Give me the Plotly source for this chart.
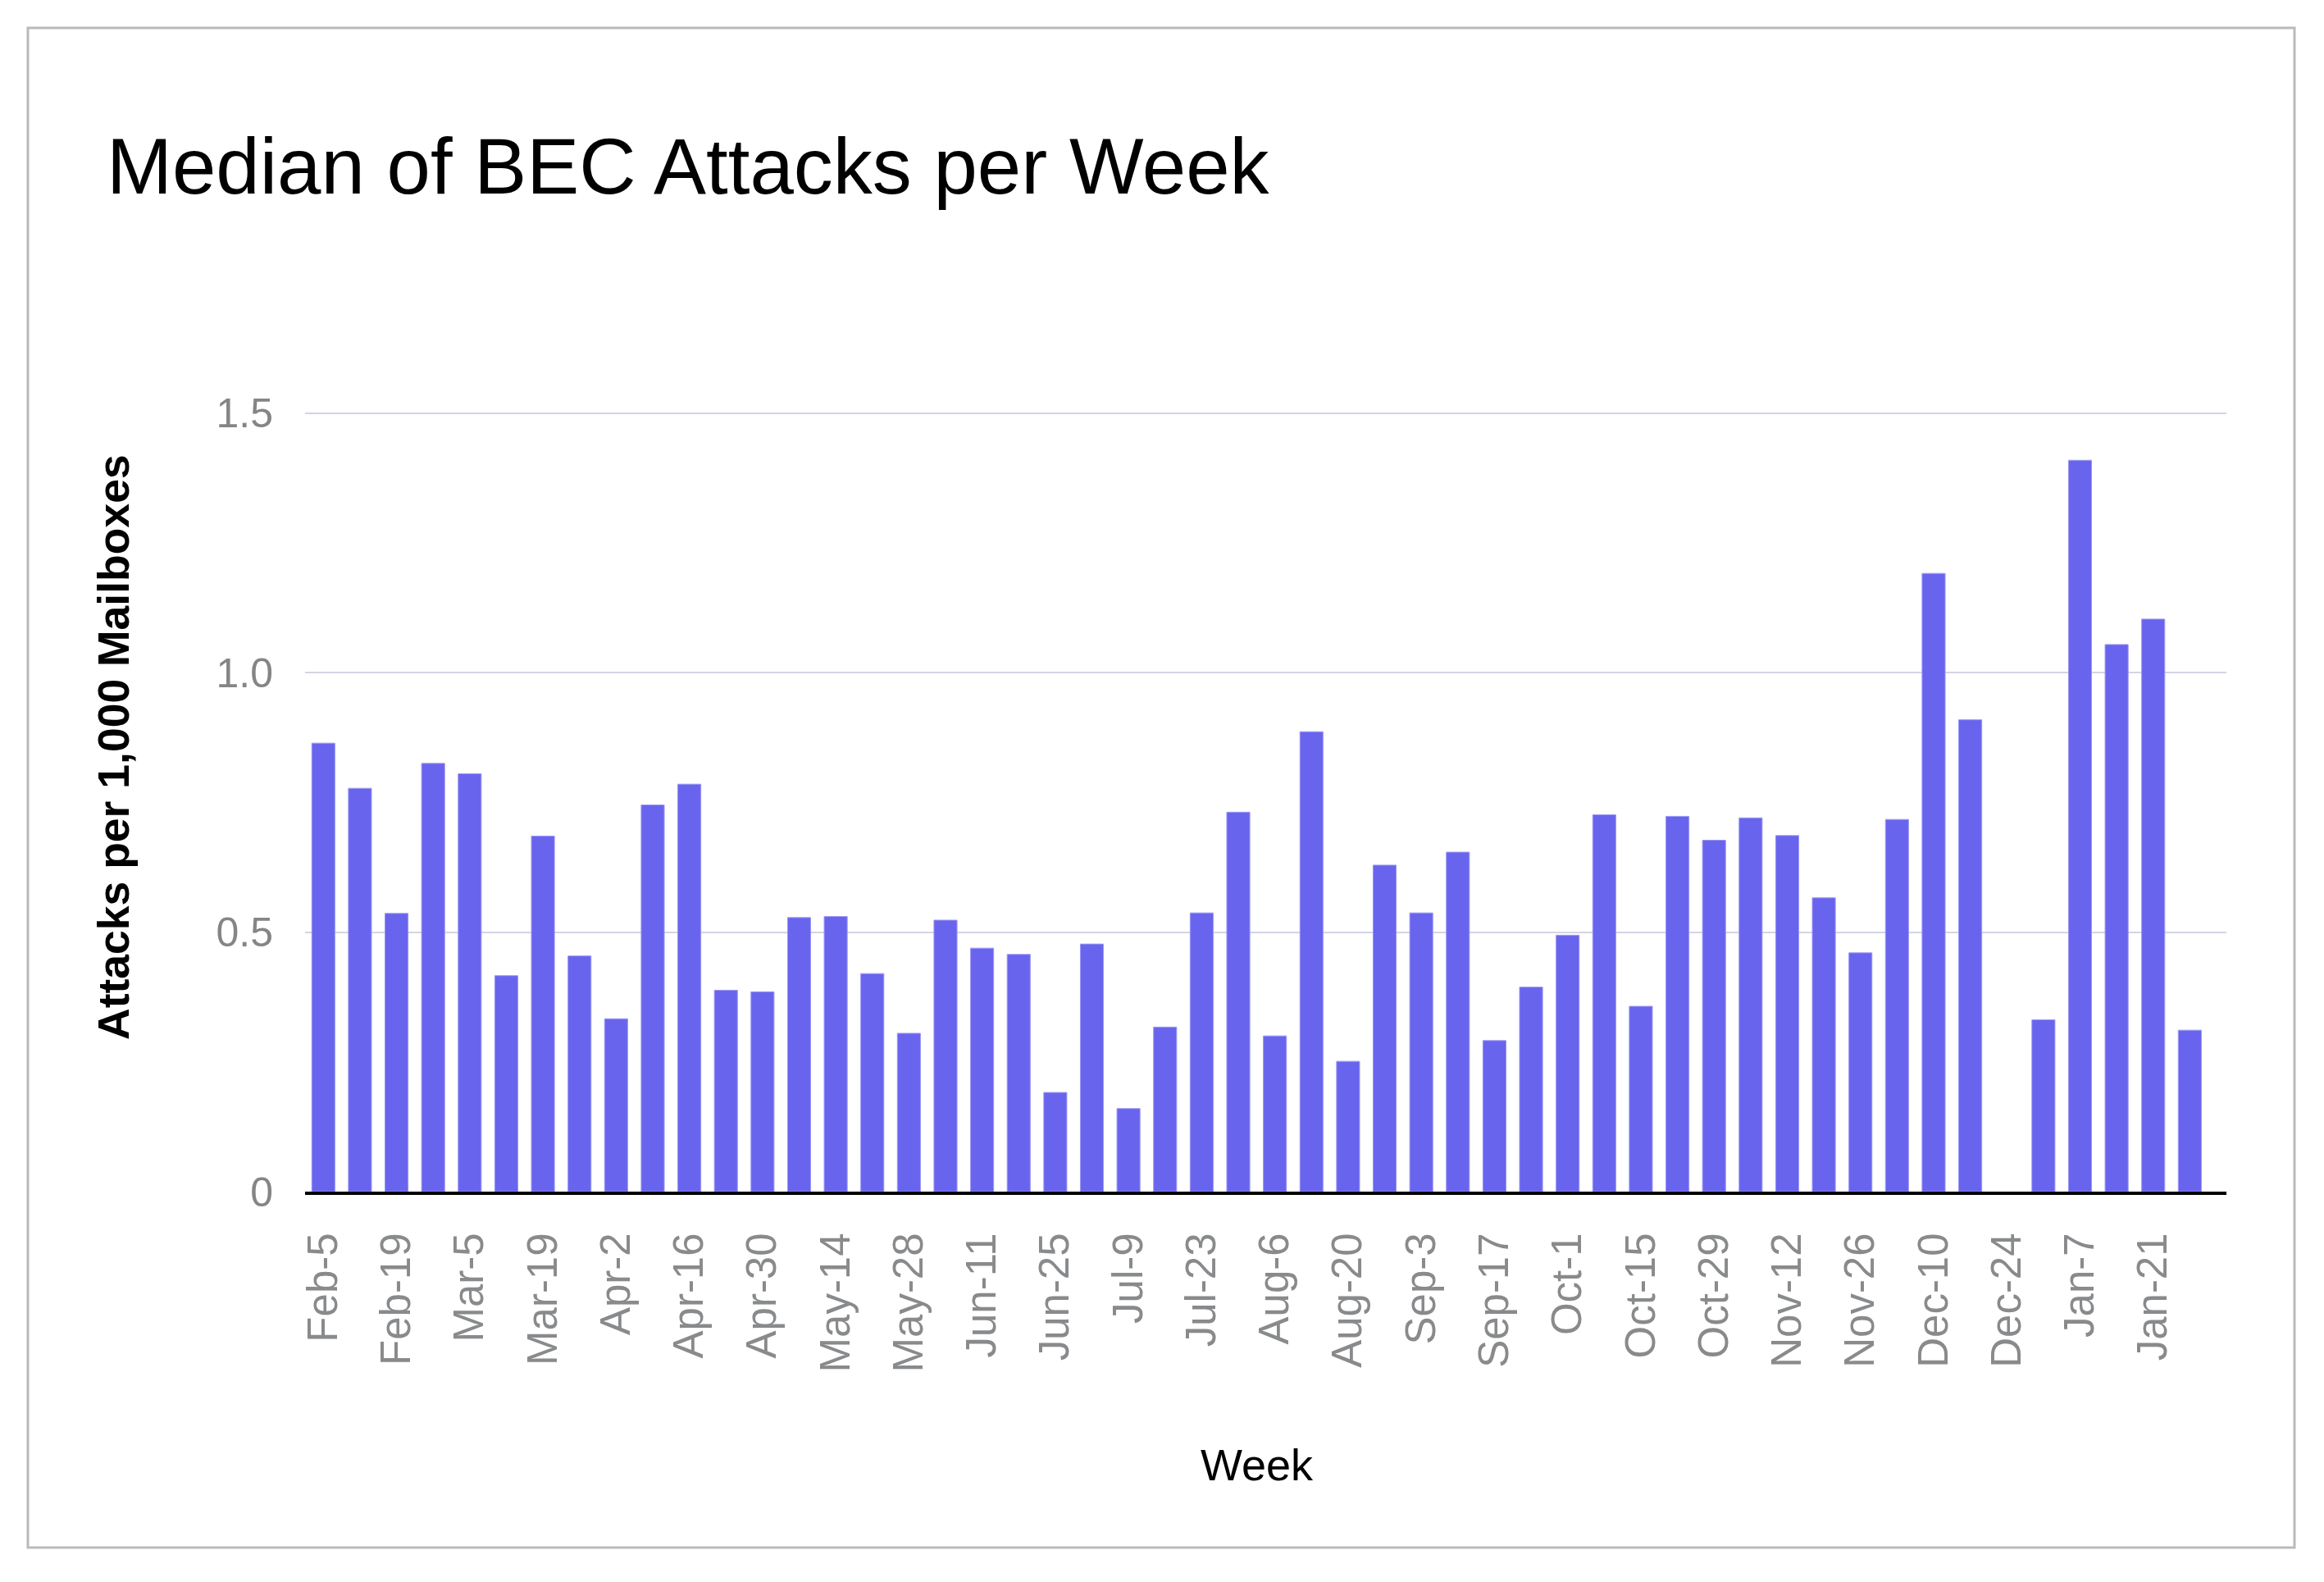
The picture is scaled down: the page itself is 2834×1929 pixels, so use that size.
import plotly.graph_objects as go

weeks = ["Feb-5", "Feb-12", "Feb-19", "Feb-26", "Mar-5", "Mar-12", "Mar-19", "Mar-26",
         "Apr-2", "Apr-9", "Apr-16", "Apr-23", "Apr-30", "May-7", "May-14", "May-21",
         "May-28", "Jun-4", "Jun-11", "Jun-18", "Jun-25", "Jul-2", "Jul-9", "Jul-16",
         "Jul-23", "Jul-30", "Aug-6", "Aug-13", "Aug-20", "Aug-27", "Sep-3", "Sep-10",
         "Sep-17", "Sep-24", "Oct-1", "Oct-8", "Oct-15", "Oct-22", "Oct-29", "Nov-5",
         "Nov-12", "Nov-19", "Nov-26", "Dec-3", "Dec-10", "Dec-17", "Dec-24", "Dec-31",
         "Jan-7", "Jan-14", "Jan-21", "Jan-28"]

attacks = [0.864, 0.777, 0.536, 0.825, 0.805, 0.416, 0.685, 0.454,
           0.333, 0.745, 0.785, 0.388, 0.385, 0.528, 0.530, 0.420,
           0.305, 0.523, 0.469, 0.457, 0.191, 0.477, 0.160, 0.317,
           0.537, 0.731, 0.300, 0.886, 0.251, 0.629, 0.537, 0.654,
           0.291, 0.394, 0.494, 0.726, 0.357, 0.723, 0.677, 0.720,
           0.686, 0.566, 0.460, 0.717, 1.191, 0.909, None, 0.331,
           1.409, 1.054, 1.103, 0.311]

tick_weeks = weeks[::2]
y_ticks = [0, 0.5, 1.0, 1.5]
y_ticktext = ["0", "0.5", "1.0", "1.5"]

title_text = "Median of BEC Attacks per Week"
x_title = "Week"
y_title = "Attacks per 1,000 Mailboxes"

W, H = 2834, 1929
L, R, T, B = 372, 2834 - 2715, 472, 1929 - 1453
pw, ph = W - L - R, H - T - B

def px(x):
    return (x - L) / pw

def py(y):
    return (H - B - y) / ph

fig = go.Figure()
fig.add_trace(go.Bar(
    x=weeks, y=attacks,
    marker=dict(color="#6964EE", line=dict(color="#9a97f4", width=1)),
))

fig.update_layout(
    width=W, height=H,
    margin=dict(l=L, r=R, t=T, b=B),
    paper_bgcolor="white", plot_bgcolor="white",
    bargap=0.37,
    showlegend=False,
    font=dict(family="Liberation Sans, Arial, sans-serif"),
    xaxis=dict(
        type="category",
        categoryorder="array", categoryarray=weeks,
        range=[-0.5, 52.0],
        tickmode="array", tickvals=tick_weeks, ticktext=tick_weeks,
        tickangle=-90,
        tickfont=dict(size=51, color="#888a8c", family="Liberation Sans, Arial, sans-serif"),
        ticks="outside", ticklen=26, tickcolor="rgba(0,0,0,0)",
        showline=True, linecolor="black", linewidth=4,
        showgrid=False, zeroline=False,
    ),
    yaxis=dict(
        range=[0, 1.55],
        tickmode="array", tickvals=y_ticks, ticktext=y_ticktext,
        tickfont=dict(size=50, color="#858585", family="Liberation Sans, Arial, sans-serif"),
        ticks="outside", ticklen=28, tickcolor="rgba(0,0,0,0)",
        showgrid=True, gridcolor="#d5d4e4", gridwidth=2,
        zeroline=False, showline=False,
    ),
    shapes=[dict(
        type="rect", xref="paper", yref="paper",
        x0=px(34), x1=px(2798), y0=py(1887), y1=py(34),
        line=dict(color="#bcb9b9", width=3), fillcolor="rgba(0,0,0,0)", layer="below",
    )],
    annotations=[
        dict(text=title_text, xref="paper", yref="paper", x=px(128), y=py(203),
             xanchor="left", yanchor="middle", showarrow=False,
             font=dict(size=96, color="black", family="Liberation Sans, Arial, sans-serif")),
        dict(text=x_title, xref="paper", yref="paper", x=px(1533), y=py(1786),
             xanchor="center", yanchor="middle", showarrow=False,
             font=dict(size=54, color="black", family="Liberation Sans, Arial, sans-serif")),
        dict(text="<b>" + y_title + "</b>", xref="paper", yref="paper", x=px(138), y=py(911),
             xanchor="center", yanchor="middle", textangle=-90, showarrow=False,
             font=dict(size=53.5, color="black", family="Liberation Sans, Arial, sans-serif")),
    ],
)

fig.write_html("out.html")
